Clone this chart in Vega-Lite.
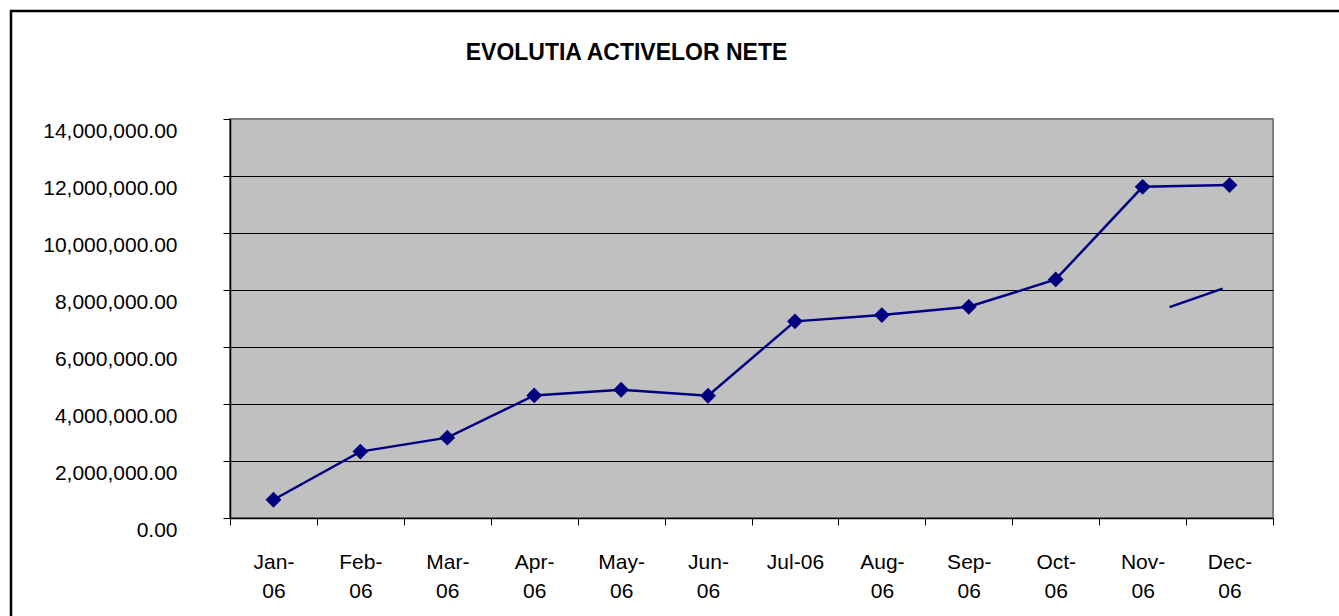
{
  "$schema": "https://vega.github.io/schema/vega-lite/v6.json",
  "width": 1043,
  "height": 399,
  "autosize": "none",
  "padding": {"left": 230, "top": 119, "right": 66, "bottom": 98},
  "background": "white",
  "title": {
    "text": "EVOLUTIA ACTIVELOR NETE",
    "font": "Liberation Sans",
    "fontSize": 23,
    "fontWeight": "bold",
    "color": "black",
    "anchor": "middle",
    "frame": "group",
    "dx": -125,
    "offset": -73,
    "baseline": "alphabetic"
  },
  "datasets": {
    "net": [
      {"series": "a", "month": "Jan-06", "idx": 1, "value": 640000},
      {"series": "a", "month": "Feb-06", "idx": 2, "value": 2330000},
      {"series": "a", "month": "Mar-06", "idx": 3, "value": 2820000},
      {"series": "a", "month": "Apr-06", "idx": 4, "value": 4300000},
      {"series": "a", "month": "May-06", "idx": 5, "value": 4500000},
      {"series": "a", "month": "Jun-06", "idx": 6, "value": 4290000},
      {"series": "a", "month": "Jul-06", "idx": 7, "value": 6900000},
      {"series": "a", "month": "Aug-06", "idx": 8, "value": 7120000},
      {"series": "a", "month": "Sep-06", "idx": 9, "value": 7410000},
      {"series": "a", "month": "Oct-06", "idx": 10, "value": 8370000},
      {"series": "a", "month": "Nov-06", "idx": 11, "value": 11620000},
      {"series": "a", "month": "Dec-06", "idx": 12, "value": 11680000},
      {"series": "b", "month": "Nov-06", "idx": 11.31, "value": 7400000},
      {"series": "b", "month": "Dec-06", "idx": 11.92, "value": 8050000}
    ]
  },
  "layer": [
    {
      "data": {"name": "net"},
      "mark": {"type": "line", "strokeWidth": 2.5},
      "encoding": {
        "x": {
          "field": "idx",
          "type": "quantitative",
          "scale": {"domain": [0.5, 12.5], "nice": false, "zero": false},
          "axis": {
            "orient": "bottom",
            "values": [0.5, 1.5, 2.5, 3.5, 4.5, 5.5, 6.5, 7.5, 8.5, 9.5, 10.5, 11.5, 12.5],
            "labels": false,
            "grid": false,
            "ticks": true,
            "tickSize": 7,
            "tickColor": "black",
            "domain": true,
            "domainColor": "black",
            "domainWidth": 1.5,
            "title": null
          }
        },
        "y": {
          "field": "value",
          "type": "quantitative",
          "scale": {"domain": [0, 14000000], "nice": false, "zero": true},
          "axis": {
            "values": [0, 2000000, 4000000, 6000000, 8000000, 10000000, 12000000, 14000000],
            "format": ",.2f",
            "grid": true,
            "gridColor": {"condition": {"test": "datum.value >= 14000000", "value": "#808080"}, "value": "black"},
            "gridWidth": 1,
            "tickSize": 7,
            "tickColor": "black",
            "domainColor": "black",
            "domainWidth": 1.5,
            "labelPadding": 46,
            "labelBaseline": "middle",
            "labelOffset": 12,
            "labelFlush": false,
            "labelOverlap": false,
            "title": null
          }
        },
        "color": {
          "field": "series",
          "type": "nominal",
          "scale": {"range": ["#000080", "#000080"]},
          "legend": {
            "orient": "none",
            "legendX": -219,
            "legendY": -108,
            "padding": 1000,
            "strokeColor": "black",
            "title": null,
            "labelExpr": "''",
            "labelOpacity": 0,
            "symbolOpacity": 0
          }
        }
      }
    },
    {
      "data": {"name": "net"},
      "transform": [{"filter": "datum.series == 'a'"}],
      "mark": {"type": "point", "shape": "diamond", "filled": true, "size": 250, "color": "#000080", "opacity": 1},
      "encoding": {
        "x": {
          "field": "idx",
          "type": "quantitative",
          "axis": {
            "orient": "bottom",
            "values": [1, 2, 3, 4, 5, 6, 7, 8, 9, 10, 11, 12],
            "labelExpr": "datum.value == 7 ? 'Jul-06' : [['Jan-','Feb-','Mar-','Apr-','May-','Jun-','Jul-','Aug-','Sep-','Oct-','Nov-','Dec-'][datum.value - 1], '06']",
            "ticks": false,
            "domain": false,
            "grid": false,
            "labelPadding": 33,
            "labelBaseline": "top",
            "labelAlign": "center",
            "labelLineHeight": 29,
            "labelFlush": false,
            "labelOverlap": false,
            "title": null
          }
        },
        "y": {"field": "value", "type": "quantitative"}
      }
    }
  ],
  "resolve": {"axis": {"x": "independent"}},
  "config": {
    "view": {"fill": "#C0C0C0", "stroke": "#808080", "strokeWidth": 2},
    "axis": {
      "labelFont": "Liberation Sans",
      "labelFontSize": 21,
      "labelColor": "black"
    },
    "legend": {"strokeWidth": 2.5}
  }
}
